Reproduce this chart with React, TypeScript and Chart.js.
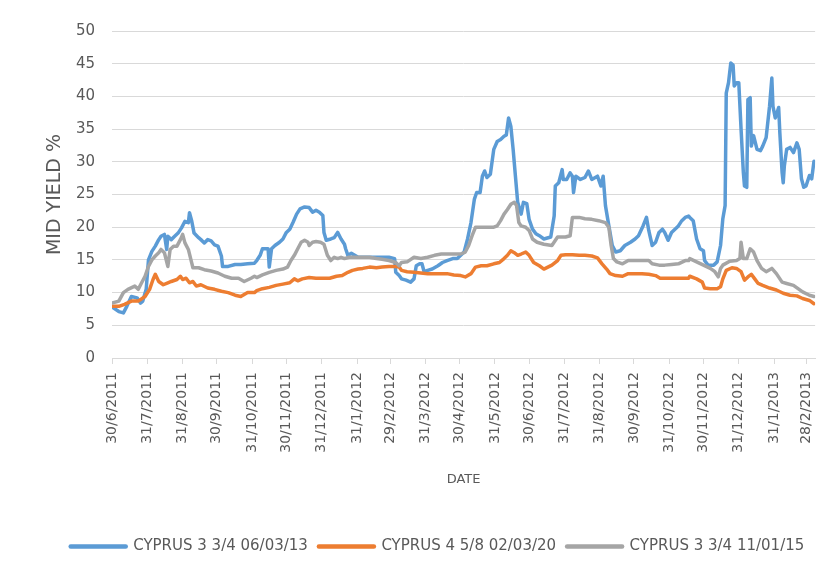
import React, { useEffect, useRef } from "react";
import { Chart, registerables } from "chart.js";

Chart.register(...registerables);

// ---- data ----
const seriesNames = ["CYPRUS 3 3/4 06/03/13", "CYPRUS 4 5/8 02/03/20", "CYPRUS 3 3/4 11/01/15"];
const seriesColors = ["#5B9BD5", "#ED7D31", "#A5A5A5"];

const startDate = "30/6/2011";
const endDate = "8/3/2013";

// month-end tick labels of the date axis
const tickLabels = [
  "30/6/2011", "31/7/2011", "31/8/2011", "30/9/2011", "31/10/2011", "30/11/2011",
  "31/12/2011", "31/1/2012", "29/2/2012", "31/3/2012", "30/4/2012", "31/5/2012",
  "30/6/2012", "31/7/2012", "31/8/2012", "30/9/2012", "31/10/2012", "30/11/2012",
  "31/12/2012", "31/1/2013", "28/2/2013",
];

// days after 30/6/2011
const blueDays = [
  0, 6, 10, 13, 17, 22, 25, 27, 30, 32, 35, 38, 41, 43, 46, 48, 49, 52, 55, 58,
  61, 64, 67, 68, 70, 72, 76, 78, 81, 84, 87, 90, 93, 96, 97, 102, 108, 113, 119, 125,
  127, 130, 132, 137, 138, 140, 143, 147, 150, 153, 156, 159, 162, 165, 169, 173, 176, 179, 182, 185,
  186, 188, 192, 195, 198, 201, 204, 205, 207, 210, 213, 216, 220, 226, 232, 237, 243, 248, 249, 252,
  254, 258, 262, 265, 267, 270, 272, 274, 277, 281, 286, 290, 294, 299, 303, 306, 309, 312, 315, 318,
  320, 323, 325, 327, 329, 332, 335, 338, 341, 344, 346, 348, 350, 352, 354, 356, 359, 361, 364, 366,
  369, 372, 375, 379,
  385, 388, 389, 392, 395, 396, 399, 402, 404, 405, 407, 411, 415, 418, 421, 426, 429, 431, 433, 436,
  439, 442, 446, 450, 455, 459, 462, 466, 469, 471, 474, 477, 480, 483, 485, 488, 491, 494, 497, 500,
  503, 506,
  507, 510, 513, 516, 519, 520, 523, 528, 531, 534, 536, 538, 539, 541, 543, 545, 546, 548, 550, 552,
  554, 555, 557, 558, 560, 561, 563, 566, 569, 571, 574, 577, 579, 580, 582, 585, 586, 588, 589, 590,
  592, 595, 598, 601, 603, 605, 607, 609, 612, 614, 616,
];
const blueYield = [
  7.8, 7.1, 6.9, 7.9, 9.4, 9.2, 8.4, 8.7, 10.5, 15.0, 16.3, 17.1, 18.1, 18.6, 18.9, 16.6, 18.6, 18.1, 18.6, 19.1,
  19.9, 20.9, 20.7, 22.2, 20.9, 19.1, 18.4, 18.1, 17.6, 18.1, 17.9, 17.3, 17.1, 15.6, 14.0, 14.0, 14.3, 14.3, 14.4, 14.5,
  14.9, 15.7, 16.7, 16.7, 13.9, 16.7, 17.2, 17.7, 18.2, 19.2, 19.7, 20.8, 22.0, 22.8, 23.1, 23.0, 22.3, 22.6, 22.3, 21.8,
  19.2, 18.0, 18.2, 18.4, 19.2, 18.2, 17.4, 16.7, 15.7, 16.0, 15.7, 15.4, 15.4, 15.4, 15.4, 15.4, 15.4, 15.2, 13.1, 12.6,
  12.1, 11.9, 11.6, 12.1, 14.1, 14.4, 14.4, 13.1, 13.4, 13.6, 14.1, 14.6, 14.9, 15.2, 15.2, 15.7, 16.2, 18.2, 20.7, 24.3,
  25.3, 25.3, 27.8, 28.6, 27.6, 28.1, 31.9, 33.1, 33.4, 33.9, 34.1, 36.7, 35.4, 31.9, 27.8, 23.8, 22.0, 23.8, 23.6, 21.2,
  19.7, 19.0, 18.7, 18.2,
  18.5, 21.7, 26.3, 26.8, 28.8, 27.3, 27.3, 28.3, 27.8, 25.3, 27.8, 27.3, 27.6, 28.6, 27.3, 27.8, 26.3, 27.8, 23.3, 20.2,
  17.2, 16.2, 16.4, 17.2, 17.7, 18.2, 18.7, 20.2, 21.5, 19.5, 17.2, 17.7, 19.2, 19.7, 19.2, 18.0, 19.2, 19.7, 20.2, 21.0,
  21.5, 21.7,
  21.5, 21.0, 18.2, 16.7, 16.4, 14.9, 14.2, 14.2, 14.7, 17.2, 21.3, 23.3, 40.5, 42.1, 45.1, 44.8, 41.6, 42.1, 42.1, 35.0,
  28.4, 26.3, 26.1, 39.5, 39.8, 32.4, 34.0, 31.9, 31.7, 32.4, 33.7, 38.5, 42.8, 38.5, 36.7, 38.3, 34.5, 28.4, 26.8, 29.4,
  31.9, 32.2, 31.4, 32.9, 31.9, 27.4, 26.1, 26.3, 27.9, 27.4, 30.1,
];

const orangeDays = [
  0, 6, 11, 17, 23, 29, 33, 36, 38, 41, 45, 49, 52, 57, 60, 62, 65, 68, 71, 74,
  78, 84, 90, 96, 102, 108, 113, 119, 125,
  127, 132, 138, 144, 150, 156, 160, 163, 167, 173, 179, 185, 191, 197, 202, 207, 211, 216, 220, 226,
  232, 237, 243, 249, 252,
  254, 259, 265, 271, 277, 283, 289, 294, 300, 306, 310, 315, 319, 324, 329, 335, 340, 344, 347, 350,
  353, 356, 359, 363, 366, 370, 375, 379,
  386, 391, 394, 398, 404, 410, 415, 421, 426, 430, 434, 437, 442, 448, 453, 459, 465, 471, 477, 481,
  485, 491, 497, 503, 506,
  507, 513, 518, 520, 525, 531, 534, 536, 539, 544, 548, 552, 555, 558, 561, 564, 567, 571, 577, 583,
  589, 595, 601, 606, 612, 616,
];
const orangeYield = [
  7.9, 7.9, 8.2, 8.7, 8.7, 9.4, 10.5, 12.0, 12.8, 11.7, 11.2, 11.5, 11.7, 12.0, 12.5, 12.0, 12.2, 11.5, 11.7, 11.0,
  11.2, 10.7, 10.5, 10.2, 10.0, 9.6, 9.4, 10.0, 10.0,
  10.3, 10.6, 10.8, 11.1, 11.3, 11.5, 12.1, 11.8, 12.1, 12.3, 12.2, 12.2, 12.2, 12.5, 12.6, 13.1, 13.4, 13.6, 13.7, 13.9,
  13.8, 13.9, 14.0, 14.0, 13.9,
  13.4, 13.2, 13.1, 13.0, 12.9, 12.9, 12.9, 12.9, 12.7, 12.6, 12.4, 12.9, 13.9, 14.1, 14.1, 14.4, 14.6, 15.2, 15.7, 16.4,
  16.1, 15.7, 15.9, 16.2, 15.7, 14.6, 14.1, 13.6,
  14.2, 14.9, 15.7, 15.8, 15.8, 15.7, 15.7, 15.6, 15.3, 14.4, 13.6, 12.9, 12.6, 12.5, 12.9, 12.9, 12.9, 12.8, 12.6, 12.2,
  12.2, 12.2, 12.2, 12.2, 12.2,
  12.5, 12.1, 11.6, 10.7, 10.6, 10.6, 10.9, 12.1, 13.4, 13.8, 13.7, 13.2, 11.9, 12.4, 12.8, 12.1, 11.4, 11.1, 10.7, 10.4,
  9.9, 9.6, 9.5, 9.1, 8.8, 8.3,
];

const grayDays = [
  0, 6, 10, 14, 20, 23, 26, 29, 32, 35, 38, 41, 43, 46, 49, 51, 54, 57, 60, 62,
  64, 67, 70, 71, 76, 81, 87, 93, 99, 105, 111, 116, 122, 125,
  127, 132, 138, 144, 150, 154, 157, 160, 163, 166, 169, 172, 173, 176, 179, 183, 186, 189, 192, 195,
  198, 201, 204, 208, 214, 220, 226, 232, 237, 243, 249, 252,
  254, 259, 265, 271, 277, 283, 289, 294, 300, 306, 310, 313, 316, 319, 324, 329, 335, 338, 341, 344,
  347, 350, 353, 355, 357, 359, 363, 366, 369, 373, 379,
  386, 391, 398, 402, 404, 410, 415, 421, 427, 433, 436, 438, 440, 443, 448, 453, 459, 465, 471, 474,
  480, 485, 491, 497, 503, 506,
  507, 513, 519, 525, 529, 532, 534, 536, 542, 548, 551, 552, 554, 557, 560, 563, 566, 570, 574, 579,
  583, 588, 592, 598, 602, 606, 612, 616,
];
const grayYield = [
  8.4, 8.7, 10.0, 10.5, 11.0, 10.5, 11.5, 12.5, 14.0, 15.0, 15.6, 16.1, 16.6, 16.1, 14.0, 16.6, 17.1, 17.1, 18.1, 18.9,
  17.6, 16.6, 14.5, 13.8, 13.8, 13.5, 13.3, 13.0, 12.5, 12.2, 12.2, 11.7, 12.2, 12.5,
  12.3, 12.7, 13.1, 13.4, 13.6, 13.9, 14.9, 15.7, 16.7, 17.7, 18.0, 17.7, 17.2, 17.7, 17.8, 17.7, 17.4, 15.7, 14.9, 15.4,
  15.2, 15.4, 15.2, 15.4, 15.4, 15.4, 15.4, 15.2, 15.1, 14.9, 14.6, 14.1,
  14.6, 14.7, 15.4, 15.2, 15.4, 15.7, 15.9, 15.9, 15.9, 15.9, 16.2, 17.2, 18.7, 20.0, 20.0, 20.0, 20.0, 20.2, 21.0, 22.0,
  22.7, 23.5, 23.8, 23.3, 20.7, 20.2, 20.0, 19.5, 18.2, 17.7, 17.4,
  17.2, 18.5, 18.5, 18.7, 21.5, 21.5, 21.3, 21.2, 21.0, 20.7, 20.0, 17.2, 15.2, 14.7, 14.4, 14.9, 14.9, 14.9, 14.9, 14.4,
  14.2, 14.2, 14.3, 14.4, 14.9, 14.9,
  15.2, 14.7, 14.2, 13.7, 13.2, 12.4, 13.7, 14.2, 14.8, 14.9, 15.2, 17.7, 15.2, 15.2, 16.7, 16.2, 14.9, 13.7, 13.2, 13.7,
  12.9, 11.6, 11.4, 11.1, 10.6, 10.1, 9.6, 9.4,
];

const yTitle = "MID YIELD %";
const xTitle = "DATE";

// ---- helpers ----
const toUTC = (s: string) => {
  const [d, m, y] = s.split("/").map(Number);
  return Date.UTC(y, m - 1, d);
};
const dayOf = (s: string) => Math.round((toUTC(s) - toUTC(startDate)) / 86400000);
const tickDays = tickLabels.map(dayOf);
const pts = (days: number[], vals: number[]) => days.map((d, i) => ({ x: d, y: vals[i] }));

const TEXT = "#595959";
const GRID = "#D9D9D9";
const FONT = "'DejaVu Sans', sans-serif";

export default function App() {
  const ref = useRef<HTMLCanvasElement | null>(null);

  useEffect(() => {
    if (!ref.current) return;
    const seriesData = [pts(blueDays, blueYield), pts(orangeDays, orangeYield), pts(grayDays, grayYield)];
    const chart = new Chart(ref.current, {
      type: "line",
      data: {
        datasets: seriesNames.map((name, i) => ({
          label: name,
          data: seriesData[i],
          borderColor: seriesColors[i],
          backgroundColor: seriesColors[i],
          borderWidth: 3.5,
          pointRadius: 0,
          tension: 0,
          borderJoinStyle: "round" as const,
          borderCapStyle: "round" as const,
          order: 3 - i,
        })),
      },
      options: {
        responsive: false,
        animation: false,
        layout: { padding: { left: 58, right: 14, top: 31, bottom: 13 } },
        plugins: {
          tooltip: { enabled: false },
          legend: {
            position: "bottom",
            align: "center",
            labels: {
              color: TEXT,
              font: { family: FONT, size: 15 },
              usePointStyle: true,
              pointStyle: "line",
              pointStyleWidth: 55,
              padding: 11,
              sort: (a: any, b: any) => a.datasetIndex - b.datasetIndex,
              generateLabels: (c: any) =>
                (Chart.defaults.plugins.legend.labels as any).generateLabels(c).map((l: any) => ({
                  ...l,
                  lineWidth: 4.5,
                  lineCap: "round",
                  pointStyle: "line",
                })),
            },
          },
        },
        scales: {
          x: {
            type: "linear",
            min: 0,
            max: dayOf(endDate),
            afterBuildTicks: (scale: any) => {
              scale.ticks = tickDays.map((v) => ({ value: v }));
            },
            afterFit: (scale: any) => {
              scale.height = 170;
            },
            ticks: {
              autoSkip: false,
              maxRotation: 90,
              minRotation: 90,
              padding: 8,
              color: TEXT,
              font: { family: FONT, size: 14 },
              callback: (v: any) => {
                const idx = tickDays.indexOf(Number(v));
                return idx >= 0 ? tickLabels[idx] : "";
              },
            },
            grid: { drawOnChartArea: false, drawTicks: true, tickLength: 6, color: GRID },
            border: { display: true, color: GRID, width: 1 },
            title: {
              display: true,
              text: xTitle,
              color: TEXT,
              font: { family: FONT, size: 13 },
              padding: { top: 0, bottom: 41 },
            },
          },
          y: {
            min: 0,
            max: 50,
            afterFit: (scale: any) => {
              scale.width = 54;
            },
            ticks: {
              stepSize: 5,
              padding: 17,
              color: TEXT,
              font: { family: FONT, size: 15 },
            },
            grid: { color: GRID, drawTicks: false, lineWidth: 1 },
            border: { display: false },
            title: {
              display: true,
              text: yTitle,
              color: TEXT,
              font: { family: FONT, size: 19 },
              padding: { top: -14.4, bottom: 0 },
            },
          },
        },
      },
    });
    return () => chart.destroy();
  }, []);

  return (
    <div style={{ position: "fixed", left: 0, top: 0, width: 831, height: 577, background: "#fff" }}>
      <canvas ref={ref} width={831} height={577} style={{ display: "block", width: 831, height: 577 }} />
    </div>
  );
}
